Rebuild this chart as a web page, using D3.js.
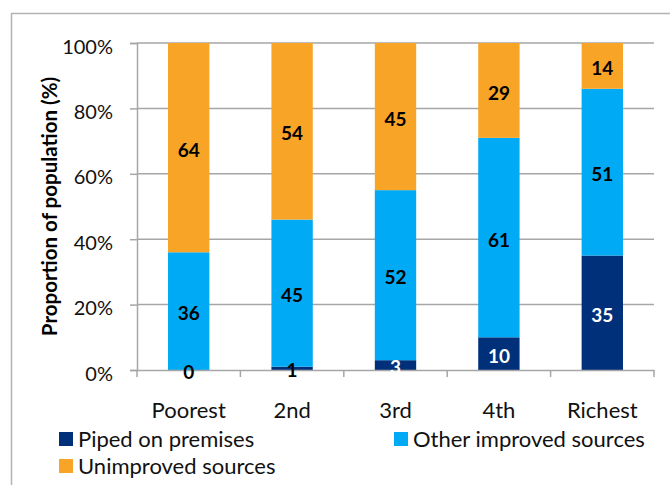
<!DOCTYPE html>
<html>
<head>
<meta charset="utf-8">
<script src="https://cdn.jsdelivr.net/npm/d3@7"></script>
<style>
  html, body { margin: 0; padding: 0; background: #fff; }
  svg { display: block; font-family: Lato, "Open Sans", sans-serif; }
</style>
</head>
<body>
<svg id="chart" width="670" height="485"></svg>
<script>
// Wealth quintiles and share of population by water source (%)
const quintiles = ["Poorest", "2nd", "3rd", "4th", "Richest"];
const piped = [0, 1, 3, 10, 35];
const otherImproved = [36, 45, 52, 61, 51];
const unimproved = [64, 54, 45, 29, 14];
const yTicks = [0, 20, 40, 60, 80, 100];

const seriesNames = ["Piped on premises", "Other improved sources", "Unimproved sources"];
const seriesColors = ["#00307A", "#00AAF5", "#F8A427"];
const seriesValues = [piped, otherImproved, unimproved];

const svg = d3.select("#chart");

// outer frame
svg.append("rect")
  .attr("x", 11.5).attr("y", 13.5)
  .attr("width", 700).attr("height", 500)
  .attr("fill", "none").attr("stroke", "#b3b3b3").attr("stroke-width", 1.5);

const plotLeft = 137, plotRight = 654, plotTop = 43, plotBottom = 370;

const x = d3.scaleBand().domain(quintiles).range([plotLeft, plotRight]).paddingInner(0.6).paddingOuter(0.3);
const xBand = d3.scaleBand().domain(quintiles).range([plotLeft, plotRight]);
const y = d3.scaleLinear().domain([0, 100]).range([plotBottom, plotTop]);

// gridlines
svg.append("g").selectAll("line").data(yTicks.filter(t => t > 0)).join("line")
  .attr("x1", plotLeft).attr("x2", plotRight)
  .attr("y1", d => y(d)).attr("y2", d => y(d))
  .attr("stroke", "#a6a6a6").attr("stroke-width", 1.5);

// stacked data
const rows = quintiles.map((q, i) => {
  const o = { q };
  seriesNames.forEach((s, k) => o[s] = seriesValues[k][i]);
  return o;
});
const stacked = d3.stack().keys(seriesNames)(rows);

const layers = svg.append("g").selectAll("g").data(stacked).join("g")
  .attr("fill", (d, k) => seriesColors[k]);
layers.selectAll("rect").data(d => d).join("rect")
  .attr("x", d => x(d.data.q))
  .attr("width", x.bandwidth())
  .attr("y", d => y(d[1]))
  .attr("height", d => y(d[0]) - y(d[1]));

// y axis
const yAxis = svg.append("g")
  .attr("transform", `translate(${plotLeft},0)`)
  .call(d3.axisLeft(y).tickValues(yTicks).tickFormat(d => d + "%").tickSize(7).tickPadding(17));
yAxis.select(".domain").attr("stroke", "#a6a6a6").attr("stroke-width", 1.5);
yAxis.selectAll(".tick line").attr("stroke", "#a6a6a6").attr("stroke-width", 1.5);
yAxis.selectAll(".tick text").attr("font-size", 20).attr("fill", "#111").attr("dy", "0.5em")
  .style("font-family", "Lato, sans-serif");

// x axis
const xAxis = svg.append("g")
  .attr("transform", `translate(0,${plotBottom})`)
  .call(d3.axisBottom(xBand).tickSize(0).tickPadding(32));
xAxis.select(".domain").attr("stroke", "#a6a6a6").attr("stroke-width", 1.5);
xAxis.selectAll(".tick text").attr("font-size", 22).attr("fill", "#111")
  .style("font-family", "Lato, sans-serif");
// tick marks between categories
svg.append("g").selectAll("line")
  .data(quintiles.map(q => xBand(q)).concat([plotRight]))
  .join("line")
  .attr("x1", d => d).attr("x2", d => d)
  .attr("y1", plotBottom).attr("y2", plotBottom + 7)
  .attr("stroke", "#a6a6a6").attr("stroke-width", 1.5);

// value labels, centred in each segment
stacked.forEach((layer, k) => {
  svg.append("g").selectAll("text").data(layer).join("text")
    .attr("x", d => x(d.data.q) + x.bandwidth() / 2)
    .attr("y", d => (y(d[0]) + y(d[1])) / 2)
    .attr("dy", "0.48em")
    .attr("text-anchor", "middle")
    .attr("font-size", 19).attr("font-weight", "bold")
    .attr("fill", d => (k === 0 && d[1] - d[0] >= 3) ? "#fff" : "#000")
    .text(d => d[1] - d[0]);
});

// axis title
svg.append("text")
  .attr("transform", `translate(57,${(plotTop + plotBottom) / 2}) rotate(-90)`)
  .attr("text-anchor", "middle")
  .attr("font-size", 20.5).attr("font-weight", "bold").attr("fill", "#000")
  .text("Proportion of population (%)");

// legend
const legendPos = [[59, 432], [394, 432], [59, 459]];
const leg = svg.append("g").selectAll("g").data(seriesNames).join("g")
  .attr("transform", (d, i) => `translate(${legendPos[i][0]},${legendPos[i][1]})`);
leg.append("rect").attr("width", 14).attr("height", 14).attr("fill", (d, i) => seriesColors[i]);
leg.append("text").attr("x", 19).attr("y", 15)
  .attr("font-size", 22).attr("fill", "#111").text(d => d);
</script>
</body>
</html>
